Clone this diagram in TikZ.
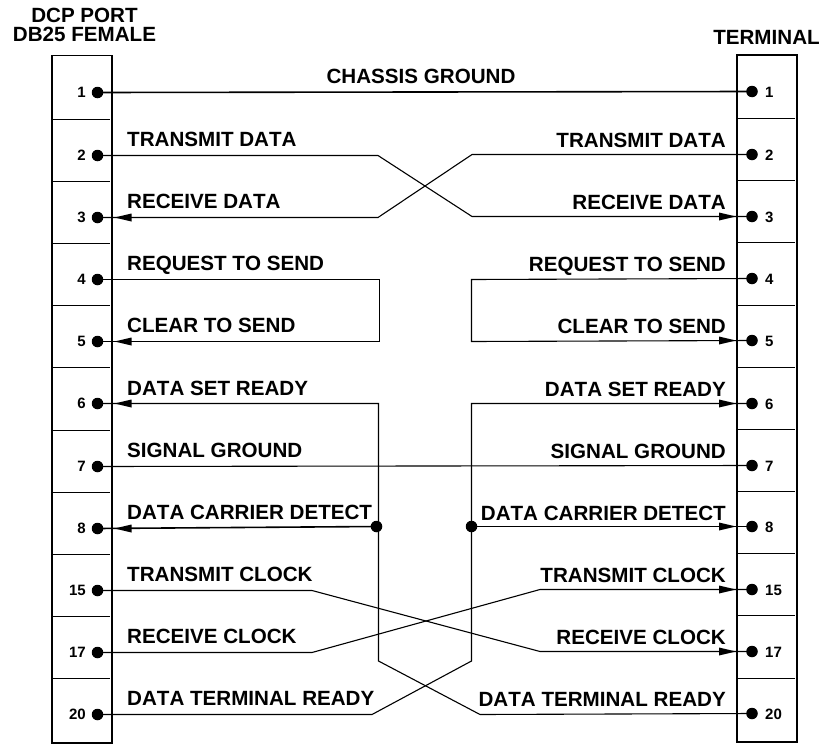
\documentclass[tikz,border=0pt]{standalone}
\usepackage{fontspec}
\setmainfont[Kerning=Off]{Liberation Sans}
\newcommand{\tipL}[1]{\fill ([xshift=17]#1.center) -- ++(17,-4) -- ++(0,8) -- cycle;}
\newcommand{\tipR}[1]{\fill ([xshift=-16]#1.center) -- ++(-17,-4) -- ++(0,8) -- cycle;}
\tikzset{
  pinball/.style={circle,fill=black,inner sep=0pt,minimum size=11.5pt},
  wire/.style={line width=1.1pt,line join=miter},
  boxline/.style={line width=1.9pt},
  sepline/.style={line width=1.7pt},
  signame/.style={font=\fontsize{20.6}{22}\selectfont\bfseries,inner sep=0pt},
  sigleft/.style={signame,anchor=base west},
  sigright/.style={signame,anchor=base east},
  pinnum/.style={font=\fontsize{15}{16}\selectfont\bfseries,inner sep=0pt},
}
\begin{document}
\begin{tikzpicture}[x=1pt,y=-1pt]
\useasboundingbox (0,0) rectangle (822,744);
% connector bodies
\draw[boxline] (52,55.5) rectangle (112,743);
\draw[boxline] (737,55) rectangle (797,742);
\foreach \y in {119.4,181.4,243.4,305.4,367.5,430.4,492.4,554.4,616.5,678.5}
  \draw[sepline] (53,\y) -- (110,\y);
\foreach \y in {118.4,180.5,242.5,305.4,367.4,429.4,491.4,553.4,615.5,678.4}
  \draw[sepline] (738,\y) -- (795,\y);
% pins
\foreach \n/\y in {1/92.5,2/155.5,3/217.5,4/279.5,5/341.5,6/403.5,7/466.5,8/528.5,15/590.5,17/652.5,20/714.5}{
  \node[pinball] (L\n) at (97.5,\y) {};
  \node[pinnum,anchor=base east] (LN\n) at (86,\y+5) {\n};
}
\foreach \n/\y in {1/91.5,2/154.5,3/216.5,4/278.5,5/340.5,6/403.5,7/465.5,8/526.5,15/589.5,17/651.5,20/713.5}{
  \node[pinball] (R\n) at (752,\y) {};
  \node[pinnum,anchor=base west] (RN\n) at (765,\y+5.5) {\n};
}
% junctions and bends
\node[pinball] (JL) at (376.5,526.5) {};
\node[pinball] (JR) at (471.5,526.5) {};
\coordinate (a2) at (378,155.5);  \coordinate (b2) at (472,216.5);
\coordinate (a3) at (378,217.5);  \coordinate (b3) at (472,154.5);
\coordinate (a4) at (379.5,279.5);  \coordinate (a5) at (379.5,341.5);
\coordinate (b4) at (471.5,279.5);\coordinate (b5) at (471.5,341.5);
\coordinate (a6) at (378.5,403.5);\coordinate (a6d) at (378.5,661);
\coordinate (b20) at (480,714.5);
\coordinate (b6) at (471.5,403.5);\coordinate (b6d) at (471.5,661);
\coordinate (a20) at (372,714.5);
\coordinate (a15) at (312,590.5); \coordinate (b17) at (540,651.5);
\coordinate (a17) at (312,652.5); \coordinate (b15) at (540,589.5);
% wires
\draw[wire,line width=1.6pt] (L1.center) -- (R1.center);
\draw[wire] (L2.center) -- (a2) -- (b2) -- (R3.center);
\draw[wire] (L3.center) -- (a3) -- (b3) -- (R2.center);
\draw[wire] (L4.center) -- (a4) -- (a5) -- (L5.center);
\draw[wire] (R4.center) -- (b4) -- (b5) -- (R5.center);
\draw[wire] (L6.center) -- (a6) -- (a6d) -- (b20) -- (R20.center);
\draw[wire] (R6.center) -- (b6) -- (b6d) -- (a20) -- (L20.center);
\draw[wire] (L7.center) -- (R7.center);
\draw[wire,line width=1.6pt] (L8.center) -- (JL.center);
\draw[wire,line width=1.6pt] (JR.center) -- (R8.center);
\draw[wire] (L15.center) -- (a15) -- (b17) -- (R17.center);
\draw[wire] (L17.center) -- (a17) -- (b15) -- (R15.center);
% arrowheads
\tipL{L3}\tipL{L5}\tipL{L6}\tipL{L8}
\tipR{R3}\tipR{R5}\tipR{R6}\tipR{R8}\tipR{R15}\tipR{R17}
% headings
\node[signame,anchor=base] (h1) at (84.5,22) {DCP PORT};
\node[signame,anchor=base] (h2) at (84.5,41) {DB25 FEMALE};
\node[signame,anchor=base] (h3) at (766.5,44) {TERMINAL};
\node[signame,anchor=base] (cg) at (421,83) {CHASSIS GROUND};
% signal names
\foreach \t/\y in {TRANSMIT DATA/146,RECEIVE DATA/208,REQUEST TO SEND/270,CLEAR TO SEND/332,DATA SET READY/395,SIGNAL GROUND/457,DATA CARRIER DETECT/519,TRANSMIT CLOCK/581,RECEIVE CLOCK/643,DATA TERMINAL READY/705}{
  \node[sigleft] at (127,\y) {\t};
  \node[sigright] at (726,\y+1) {\t};
}
\end{tikzpicture}
\end{document}
